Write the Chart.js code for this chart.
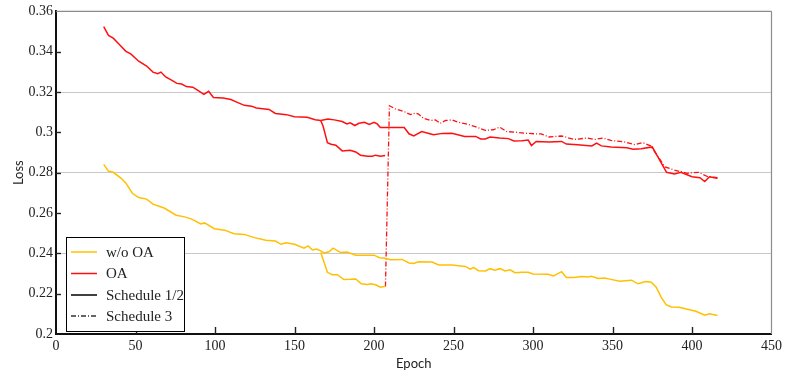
<!DOCTYPE html>
<html><head><meta charset="utf-8">
<script src="https://cdn.jsdelivr.net/npm/chart.js@4.4.1/dist/chart.umd.min.js"></script>
<style>html,body{margin:0;padding:0;background:#fff}</style>
</head><body>
<canvas id="c" width="786" height="375"></canvas>
<script>
// ---- data ----
const oaMainEpoch = [30,33,36,40,44,47,52,57,61,64,66,69,73.5,76,79,82,86,89,93,96,99,105,110,114,118.5,123,126,134,138,145,150,158,163,166.5,171,175,180,183,185,188,190.5,194,197,200,202,204,209,219,222,225,230,234,237.5,243,249,257,264,267,270,273,279,284.5,288,293,297,299,302,310,318,321,328,337,340,343,349,359,363,368,375,384,389,393,400,405,408,411,416];
const oaMainLoss = [0.3525,0.3481,0.3467,0.3435,0.3402,0.3389,0.3353,0.3329,0.3299,0.3291,0.3299,0.3275,0.3255,0.3243,0.3240,0.3227,0.3224,0.3209,0.3189,0.3204,0.3173,0.3170,0.3163,0.3149,0.3134,0.3130,0.3121,0.3114,0.3094,0.3088,0.3078,0.3075,0.3063,0.3059,0.3066,0.3062,0.3054,0.3042,0.3047,0.3034,0.3045,0.3050,0.3039,0.3050,0.3042,0.3024,0.3024,0.3024,0.2993,0.2982,0.3004,0.2996,0.2988,0.2995,0.2996,0.2980,0.2980,0.2967,0.2967,0.2977,0.2972,0.2969,0.2957,0.2959,0.2962,0.2935,0.2955,0.2952,0.2955,0.2942,0.2939,0.2933,0.2947,0.2933,0.2928,0.2924,0.2916,0.2919,0.2928,0.2802,0.2794,0.2802,0.2780,0.2775,0.2756,0.2780,0.2772];

const oaBranchEpoch = [166.5,168,170.7,173,176,180,185,188.5,191.5,196,199,201,204,207];
const oaBranchLoss  = [0.3059,0.3030,0.2949,0.2941,0.2936,0.2908,0.2911,0.2903,0.2887,0.2882,0.2882,0.2887,0.2882,0.2885];

const sched3Epoch = [207.2,209.7,213.5,218.7,223,226,228,231,235.5,238.6,241.7,245,249,253,258,263.6,270,275,279,283.5,289,295,301,305,310,318,326,334,339,344,349,358,364,369,374,383,389,397,404,410,416];
const sched3Loss  = [0.2236,0.3132,0.3116,0.3104,0.3088,0.3096,0.3091,0.3070,0.3059,0.3062,0.3045,0.3059,0.3062,0.3050,0.3042,0.3029,0.3010,0.3013,0.3026,0.3004,0.3001,0.2996,0.2993,0.2993,0.2977,0.2982,0.2965,0.2972,0.2965,0.2972,0.2960,0.2952,0.2939,0.2949,0.2933,0.2829,0.2813,0.2797,0.2802,0.2780,0.2775];

const woaMainEpoch = [30,33,36,41,44,48,52,57,61,68,75.6,81,85,91,93.4,99.6,106,112,118.5,124.7,132,138,141.5,144.6,150,156,158.6,161.3,163.8,166.5,168.6,171.7,174.3,179,183,188.5,200,203.5,207,210.4,217.7,222,225,228,236.5,240.7,249,257.4,260.5,262.6,265.7,270,273,276,279.3,282.4,285.6,288.7,293,297,300,309.6,312.7,314.8,318,321,326,330.5,334.7,336.7,341,345,349,354.5,362,366,371,374.4,377.5,380.6,383.7,387,392,397,402.5,408,411,416];
const woaMainLoss  = [0.2841,0.2808,0.2802,0.2772,0.2748,0.2698,0.2677,0.2669,0.2644,0.2625,0.2589,0.2581,0.2571,0.2546,0.2551,0.2522,0.2515,0.2497,0.2494,0.2478,0.2465,0.2461,0.2445,0.2452,0.2445,0.2426,0.2437,0.2417,0.2421,0.2412,0.2402,0.2408,0.2426,0.2404,0.2407,0.2391,0.2391,0.2378,0.2376,0.2368,0.2370,0.2352,0.2350,0.2358,0.2357,0.2342,0.2342,0.2335,0.2322,0.2330,0.2314,0.2313,0.2324,0.2316,0.2324,0.2313,0.2318,0.2304,0.2306,0.2306,0.2298,0.2296,0.2288,0.2296,0.2309,0.2280,0.2280,0.2285,0.2283,0.2286,0.2275,0.2278,0.2271,0.2262,0.2267,0.2249,0.2260,0.2257,0.2232,0.2183,0.2146,0.2134,0.2133,0.2123,0.2113,0.2093,0.2100,0.2092];

const woaBranchEpoch = [166.5,170.7,173.8,177,181,185,188.5,192,196,198,201,204,207.2];
const woaBranchLoss  = [0.2404,0.2306,0.2294,0.2294,0.2270,0.2271,0.2273,0.2249,0.2245,0.2249,0.2244,0.2232,0.2237];

const xTicks = [0,50,100,150,200,250,300,350,400,450];
const yTicks = [0.2,0.22,0.24,0.26,0.28,0.3,0.32,0.34,0.36];
const yGridValues = [0.24,0.28,0.32,0.36];
const legendNames = ['w/o OA','OA','Schedule 1/2','Schedule 3'];

// ---- build ----
const pts = (xs, ys) => xs.map((x, i) => ({x, y: ys[i]}));
const RED = '#ff1010', YEL = '#ffc000';
const SERIF = '"Liberation Serif", "DejaVu Serif", serif';
const SANS = 'Lato, "Liberation Sans", sans-serif';

function ds(label, xs, ys, color, dash) {
  return {label, data: pts(xs, ys), borderColor: color, backgroundColor: color,
    borderWidth: dash ? 1.3 : 1.5, borderDash: dash || [], pointRadius: 0, tension: 0, fill: false};
}

const decor = {
  id: 'decor',
  beforeDatasetsDraw(chart) {
    const {ctx, chartArea: a, scales: {x, y}} = chart;
    ctx.save();
    ctx.strokeStyle = '#8c8c8c'; ctx.lineWidth = 1.2;
    ctx.beginPath(); ctx.moveTo(a.right, a.top); ctx.lineTo(a.right, a.bottom); ctx.stroke();
    ctx.beginPath(); ctx.moveTo(a.left, a.top); ctx.lineTo(a.right, a.top); ctx.stroke();
    ctx.strokeStyle = '#222'; ctx.lineWidth = 1.4;
    xTicks.forEach(v => { if (v > 0 && v < 450) { const px = Math.round(x.getPixelForValue(v)) + 0.5;
      ctx.beginPath(); ctx.moveTo(px, a.bottom); ctx.lineTo(px, a.bottom - 7); ctx.stroke(); }});
    yTicks.forEach(v => { if (v > 0.2 && v < 0.36) { const py = Math.round(y.getPixelForValue(v)) + 0.5;
      ctx.beginPath(); ctx.moveTo(a.left, py); ctx.lineTo(a.left + 5, py); ctx.stroke(); }});
    ctx.restore();
  },
  afterDraw(chart) {
    const {ctx} = chart;
    ctx.save();
    const bx = 66, by = 237, bw = 118, bh = 94;
    ctx.fillStyle = '#fff'; ctx.fillRect(bx, by, bw, bh);
    ctx.strokeStyle = '#000'; ctx.lineWidth = 1;
    ctx.strokeRect(bx + 0.5, by + 0.5, bw, bh);
    const rows = [252, 273.5, 295, 316];
    const styles = [[YEL, []], [RED, []], ['#000', []], ['#333', [5, 2, 1, 2]]];
    ctx.font = '15px ' + SERIF; ctx.textBaseline = 'middle'; ctx.fillStyle = '#222';
    legendNames.forEach((n, i) => {
      ctx.strokeStyle = styles[i][0]; ctx.setLineDash(styles[i][1]); ctx.lineWidth = 1.5;
      ctx.beginPath(); ctx.moveTo(71, rows[i]); ctx.lineTo(97, rows[i]); ctx.stroke();
      ctx.setLineDash([]);
      ctx.fillText(n, 106, rows[i] + 1);
    });
    ctx.restore();
  }
};

new Chart(document.getElementById('c'), {
  type: 'line',
  data: {datasets: [
    ds('w/o OA Schedule 1/2', woaMainEpoch, woaMainLoss, YEL),
    ds('w/o OA Schedule 1 branch', woaBranchEpoch, woaBranchLoss, YEL),
    ds('OA Schedule 1/2', oaMainEpoch, oaMainLoss, RED),
    ds('OA Schedule 1 branch', oaBranchEpoch, oaBranchLoss, RED),
    ds('OA Schedule 3', sched3Epoch, sched3Loss, RED, [5, 2, 1, 2])
  ]},
  options: {
    responsive: false, animation: false,
    layout: {padding: {left: 0, right: 12, top: 8, bottom: 0}},
    plugins: {legend: {display: false}, tooltip: {enabled: false}},
    scales: {
      x: {type: 'linear', min: 0, max: 450,
        afterBuildTicks: s => { s.ticks = xTicks.map(v => ({value: v})); },
        afterFit: s => { s.height = 41; },
        ticks: {font: {family: SERIF, size: 14}, color: '#222', padding: 4, maxRotation: 0},
        grid: {display: false, drawTicks: false},
        border: {display: true, color: '#111', width: 2},
        title: {display: true, text: 'Epoch', font: {family: SANS, size: 13}, color: '#222', padding: {top: 0, bottom: 3}}
      },
      y: {type: 'linear', min: 0.2, max: 0.36,
        afterBuildTicks: s => { s.ticks = yTicks.map(v => ({value: v})); },
        afterFit: s => { s.width = 56; },
        ticks: {font: {family: SERIF, size: 14}, color: '#222', padding: 3,
          callback: v => String(parseFloat(Number(v).toFixed(2)))},
        grid: {drawTicks: false, lineWidth: 1,
          color: c => yGridValues.some(g => Math.abs(g - c.tick.value) < 1e-6) ? (c.tick.value > 0.35 ? '#8c8c8c' : '#c8c8c8') : 'rgba(0,0,0,0)'},
        border: {display: true, color: '#111', width: 2},
        title: {display: true, text: 'Loss', font: {family: SANS, size: 13}, color: '#222', padding: {top: 11, bottom: 0}}
      }
    }
  },
  plugins: [decor]
});
</script>
</body></html>
